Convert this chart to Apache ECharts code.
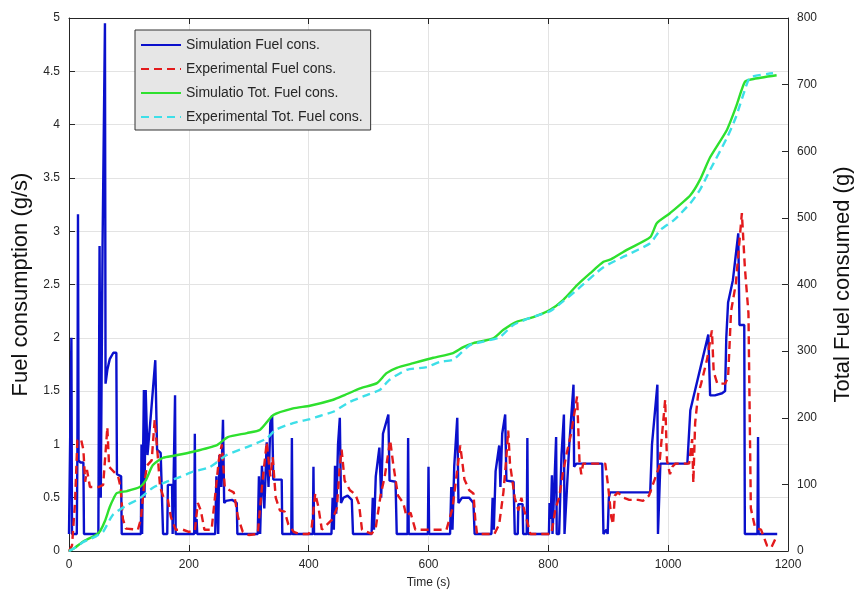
<!DOCTYPE html>
<html>
<head>
<meta charset="utf-8">
<script src="https://cdn.jsdelivr.net/npm/echarts@6/dist/echarts.min.js"></script>
<style>
html,body{margin:0;padding:0;background:#fff;}
#chart{width:854px;height:594px;}
</style>
</head>
<body>
<div id="chart"></div>
<script>
// ---- data (time s, value) ----
const seriesNames = ["Simulation Fuel cons.", "Experimental Fuel cons.", "Simulatio Tot. Fuel cons.", "Experimental Tot. Fuel cons."];
const xTicks = [0, 200, 400, 600, 800, 1000, 1200];

const simFuel = [
[0,0.16],[3,0.16],[4,2.0],[5,0.16],[13,0.16],[14,0.9],[15,3.16],[16,0.85],[19,0.83],[24,0.83],[25,0.16],
[49,0.16],[51,2.86],[53,0.5],[56,2.86],[60,4.95],[61,1.57],[64,1.7],[68,1.8],[74,1.86],[79,1.86],[80,0.72],[87,0.7],[88,0.16],
[120,0.16],[121,1.0],[122,0.16],[124,0.16],[125,1.51],[126,0.5],[128,1.51],[131,0.9],[137,1.3],[144,1.79],[147,0.95],[153,0.92],[156,0.92],[157,0.16],
[164,0.16],[165,0.62],[172,0.62],[173,0.16],[176,0.16],[177,1.46],[178,0.16],[209,0.16],[210,1.1],[211,0.16],[213,0.3],[214,0.16],
[244,0.16],[246,0.7],[249,0.16],[251,0.9],[254,0.6],[257,1.23],[259,0.45],[262,0.47],[272,0.48],[280,0.45],[281,0.16],
[315,0.16],[317,0.7],[319,0.16],[322,0.8],[326,0.4],[330,1.02],[333,0.6],[336,1.2],[339,1.27],[341,0.67],[355,0.67],[356,0.16],[371,0.16],[372,1.06],[373,0.16],
[407,0.16],[408,0.79],[409,0.16],[438,0.16],[440,0.5],[442,0.2],[444,0.8],[446,0.35],[449,1.0],[452,1.25],[454,0.45],[458,0.5],[465,0.52],[472,0.48],[474,0.16],
[505,0.16],[507,0.5],[509,0.2],[512,0.7],[518,0.97],[521,0.5],[524,1.1],[533,1.28],[535,0.66],[545,0.65],[547,0.16],[565,0.16],[566,1.06],[567,0.16],
[599,0.16],[600,0.79],[601,0.16],[636,0.16],[638,0.6],[640,0.2],[643,0.8],[648,1.25],[650,0.45],[656,0.5],[668,0.5],[675,0.45],[677,0.16],
[705,0.16],[707,0.5],[709,0.2],[712,0.75],[718,0.99],[720,0.6],[723,1.1],[728,1.28],[730,0.66],[742,0.65],[744,0.16],[749,0.16],[750,0.44],[757,0.44],[758,0.16],[764,0.16],[765,1.06],[766,0.16],
[801,0.16],[802,0.45],[804,0.3],[806,0.71],[807,0.16],[810,0.16],[813,1.07],[814,0.16],[818,0.16],[822,0.9],[826,1.28],[827,0.16],[830,0.16],[835,1.0],[842,1.56],[843,0.79],[847,0.82],[890,0.82],[892,0.16],
[895,0.16],[897,0.2],[899,0.16],[901,0.5],[903,0.55],[970,0.55],[973,1.0],[982,1.56],[983,0.16],[985,0.16],[987,0.82],[1032,0.82],[1037,1.32],[1067,2.03],[1070,1.46],[1078,1.46],[1090,1.48],[1095,1.5],
[1097,2.0],[1100,2.33],[1108,2.54],[1117,2.98],[1119,2.12],[1127,2.12],[1128,0.16],[1149,0.16],[1150,1.07],[1151,0.16],[1182,0.16]
];

const expFuel = [
[0,0.0],[5,0.05],[10,0.45],[14,1.04],[20,1.05],[24,0.95],[27,0.65],[30,0.76],[35,0.6],[50,0.6],[57,0.62],[60,0.85],[64,1.16],[67,0.79],[72,0.76],[82,0.7],[86,0.6],[90,0.3],[95,0.21],[115,0.2],
[120,0.3],[125,0.6],[130,0.8],[138,0.85],[143,1.23],[148,0.9],[152,0.6],[158,0.5],[165,0.48],[170,0.32],[178,0.2],[190,0.2],[200,0.18],[210,0.19],[215,0.45],[220,0.38],[226,0.2],[238,0.2],
[250,0.85],[255,1.0],[260,0.6],[268,0.57],[275,0.55],[282,0.32],[290,0.18],[300,0.15],[315,0.16],[322,0.6],[330,1.02],[336,0.7],[340,0.88],[345,0.5],[352,0.38],[360,0.37],[366,0.25],[375,0.18],[385,0.16],
[400,0.16],[405,0.22],[411,0.54],[416,0.42],[422,0.2],[440,0.3],[447,0.4],[452,0.8],[455,0.95],[460,0.66],[469,0.57],[478,0.53],[484,0.44],[489,0.2],[505,0.16],
[512,0.22],[520,0.52],[527,0.7],[536,1.04],[541,0.82],[549,0.52],[558,0.45],[563,0.33],[570,0.36],[578,0.2],[630,0.2],[640,0.4],[646,0.67],[653,0.99],[660,0.67],[668,0.57],[675,0.54],[678,0.3],[681,0.16],
[710,0.16],[718,0.25],[725,0.55],[730,0.88],[733,1.13],[736,0.82],[744,0.5],[750,0.38],[755,0.5],[760,0.38],[770,0.16],[805,0.16],[812,0.4],[818,0.5],[824,0.72],[830,0.9],[838,1.1],[848,1.45],[852,0.84],[855,0.72],[858,0.82],
[895,0.82],[900,0.6],[905,0.32],[908,0.25],[911,0.52],[916,0.55],[925,0.5],[935,0.48],[950,0.48],[958,0.47],[968,0.52],[985,0.79],[995,1.42],[998,0.85],[1003,0.72],[1007,0.79],[1012,0.82],[1035,0.82],
[1040,1.05],[1042,0.64],[1045,1.2],[1050,1.47],[1055,1.57],[1065,1.8],[1073,2.07],[1076,1.68],[1082,1.57],[1095,1.57],[1100,1.63],[1105,2.25],[1113,2.51],[1123,3.17],[1128,2.66],[1134,2.23],[1138,0.4],[1145,0.22],[1155,0.2],[1165,0.05],[1172,0.03],[1182,0.15]
];

const simTotal = [
[0,0],[10,5],[25,15],[45,24],[52,30],[60,45],[68,66],[75,80],[80,87],[97,90],[118,96],[128,106],[140,129],[157,140],[175,143],[207,149],[247,159],[265,171],[297,177],[319,182],[341,204],[374,214],[402,218],
[441,227],[460,234],[486,244],[514,252],[530,267],[547,275],[575,282],[608,290],[641,297],[658,306],[675,312],[708,319],[725,332],[747,344],[775,351],[803,362],[825,377],[848,399],[870,417],[892,434],[905,438],
[931,452],[970,471],[981,492],[1003,507],[1037,534],[1053,557],[1070,591],[1098,632],[1113,666],[1128,704],[1140,708],[1181,714]
];

const expTotal = [
[0,0],[10,5],[25,14],[45,22],[57,29],[73,54],[97,69],[118,79],[140,95],[163,104],[185,111],[207,119],[235,126],[263,144],[297,156],[330,169],[345,182],[374,192],[402,198],[420,203],[441,209],[469,224],
[497,234],[519,242],[535,257],[564,272],[597,276],[619,284],[641,287],[669,309],[690,314],[719,321],[741,339],[770,350],[803,360],[825,375],[848,392],[892,426],[931,444],[970,462],[987,482],[1010,497],
[1037,522],[1053,542],[1070,572],[1098,620],[1113,651],[1128,692],[1137,711],[1175,717]
];

const FONT = "'Liberation Sans', Arial, Helvetica, sans-serif";
const axisColor = '#262626';
const gridColor = '#e3e3e3';

const chart = echarts.init(document.getElementById('chart'), null, {renderer: 'canvas'});
chart.setOption({
  animation: false,
  backgroundColor: '#fff',
  textStyle: {fontFamily: FONT},
  grid: {left: 69, right: 66, top: 18, bottom: 43, containLabel: false, outerBoundsMode: 'none'},
  legend: {
    data: seriesNames,
    orient: 'vertical',
    left: 135, top: 30,
    padding: [8, 8, 6, 5],
    itemWidth: 40, itemHeight: 14, itemGap: 10,
    backgroundColor: '#e6e6e6',
    borderColor: '#333', borderWidth: 1,
    itemStyle: {opacity: 0},
    textStyle: {fontSize: 14, color: '#262626', fontFamily: FONT}
  },
  xAxis: [{
    type: 'value', min: 0, max: 1200, interval: 200, position: 'bottom',
    name: 'Time (s)', nameLocation: 'middle', nameGap: 26,
    nameTextStyle: {fontSize: 12, color: axisColor, fontFamily: FONT},
    axisLine: {show: true, onZero: false, lineStyle: {color: axisColor, width: 1}},
    axisTick: {show: true, inside: true, length: 6, lineStyle: {color: axisColor}},
    axisLabel: {fontSize: 12, color: axisColor, margin: 8, fontFamily: FONT,
      formatter: v => xTicks.indexOf(v) >= 0 ? String(v) : ''},
    splitLine: {show: true, lineStyle: {color: gridColor, width: 1}}
  }, {
    type: 'value', min: 0, max: 1200, interval: 200, position: 'top',
    axisLine: {show: true, onZero: false, lineStyle: {color: axisColor, width: 1}},
    axisTick: {show: true, inside: true, length: 6, lineStyle: {color: axisColor}},
    axisLabel: {show: false}, splitLine: {show: false}
  }],
  yAxis: [{
    type: 'value', min: 0, max: 5, interval: 0.5, position: 'left',
    name: 'Fuel consumption (g/s)', nameLocation: 'middle', nameGap: 36,
    nameTextStyle: {fontSize: 22, color: '#111', fontFamily: FONT},
    axisLine: {show: true, onZero: false, lineStyle: {color: axisColor, width: 1}},
    axisTick: {show: true, inside: true, length: 6, lineStyle: {color: axisColor}},
    axisLabel: {fontSize: 12, color: axisColor, margin: 9, fontFamily: FONT},
    splitLine: {show: true, lineStyle: {color: gridColor, width: 1}}
  }, {
    type: 'value', min: 0, max: 800, interval: 100, position: 'right',
    name: 'Total Fuel consumed (g)', nameLocation: 'middle', nameGap: 44,
    nameTextStyle: {fontSize: 22, color: '#111', fontFamily: FONT},
    axisLine: {show: true, onZero: false, lineStyle: {color: axisColor, width: 1}},
    axisTick: {show: true, inside: true, length: 6, lineStyle: {color: axisColor}},
    axisLabel: {fontSize: 12, color: axisColor, margin: 9, fontFamily: FONT},
    splitLine: {show: false}
  }],
  series: [{
    name: seriesNames[0], type: 'line', xAxisIndex: 0, yAxisIndex: 0, data: simFuel,
    symbol: 'none', lineStyle: {color: '#0a10cc', width: 2.4}, itemStyle: {color: '#0a10cc'}
  }, {
    name: seriesNames[1], type: 'line', xAxisIndex: 0, yAxisIndex: 0, data: expFuel,
    symbol: 'none', lineStyle: {color: '#e31a1c', width: 2.4, type: [8, 5]}, itemStyle: {color: '#e31a1c'}
  }, {
    name: seriesNames[2], type: 'line', xAxisIndex: 0, yAxisIndex: 1, data: simTotal,
    symbol: 'none', smooth: 0.2, lineStyle: {color: '#2ee02e', width: 2.4}, itemStyle: {color: '#2ee02e'}
  }, {
    name: seriesNames[3], type: 'line', xAxisIndex: 0, yAxisIndex: 1, data: expTotal,
    symbol: 'none', smooth: 0.2, lineStyle: {color: '#3ddfe8', width: 2.4, type: [8, 5]}, itemStyle: {color: '#3ddfe8'}
  }]
});
</script>
</body>
</html>
